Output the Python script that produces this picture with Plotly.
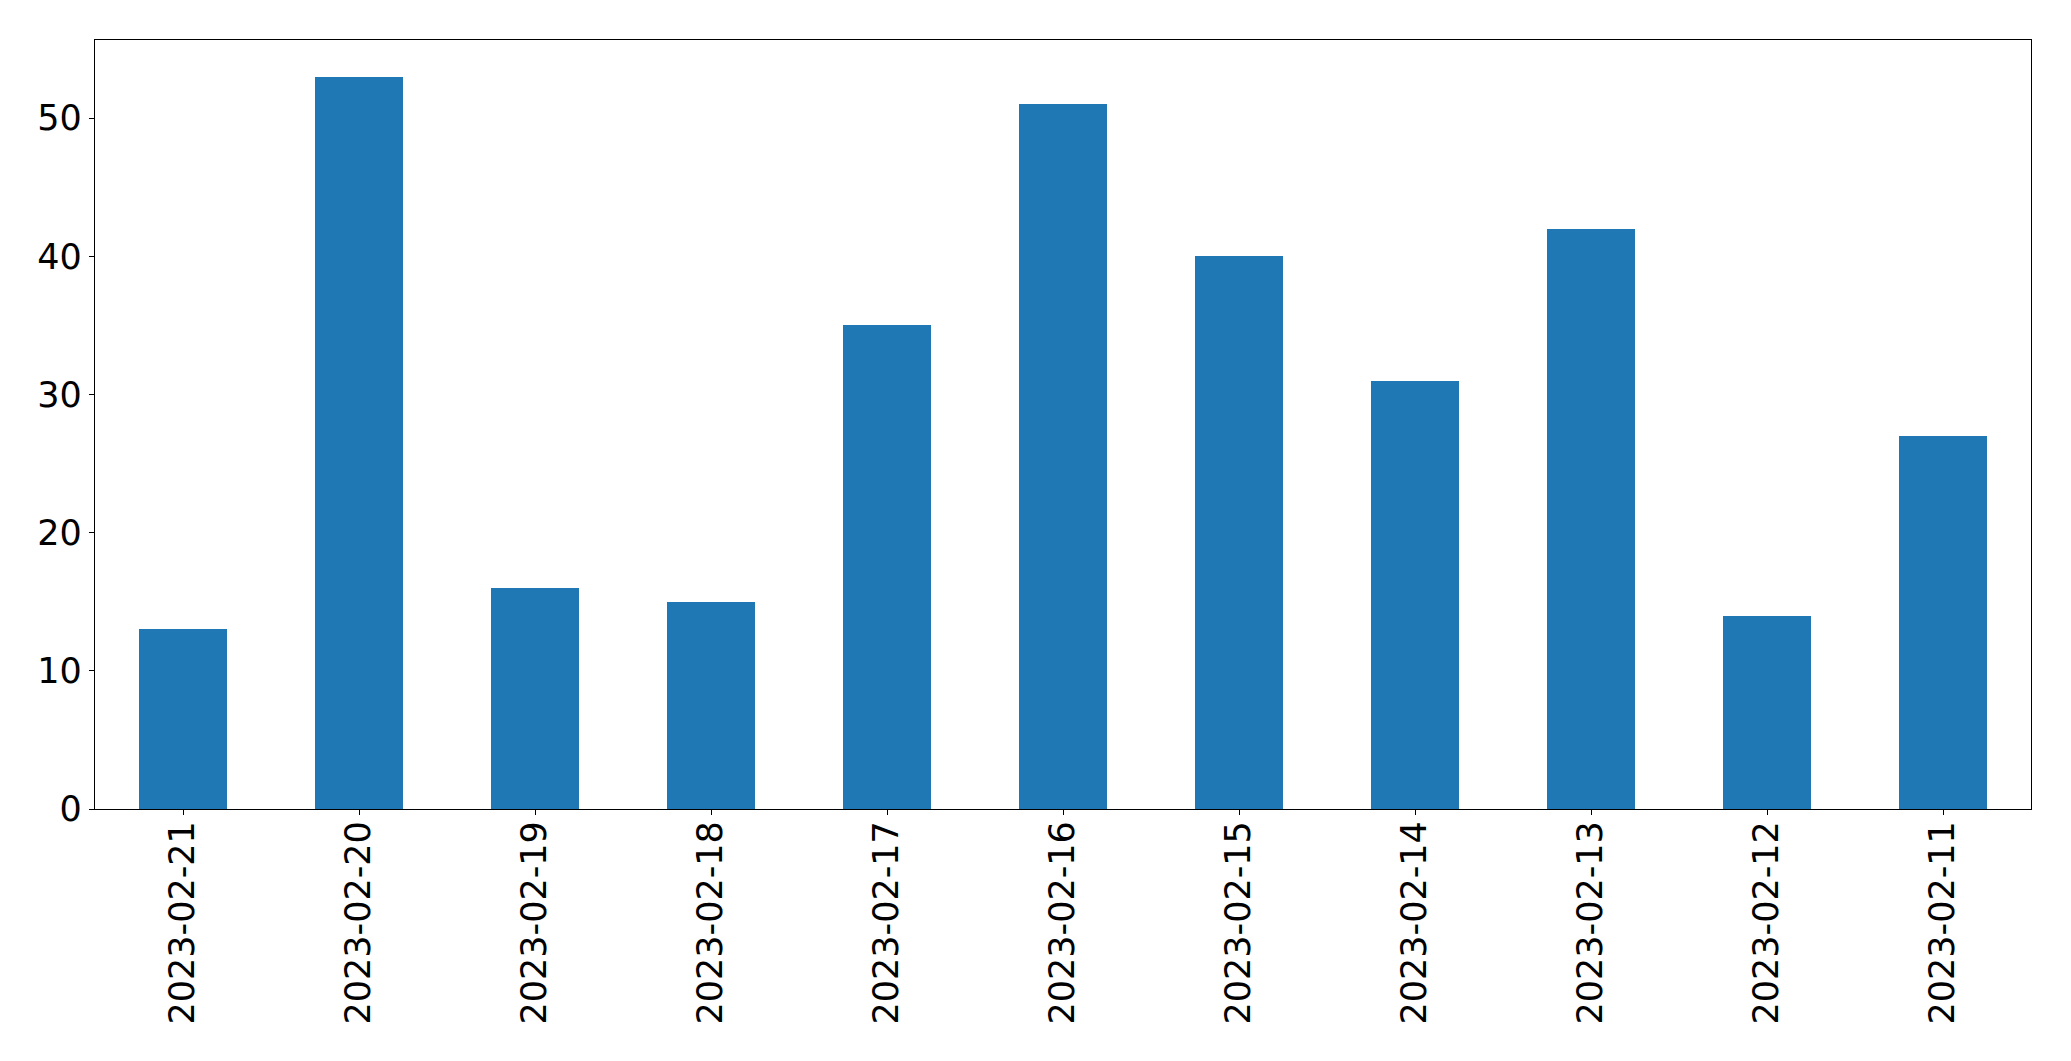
import plotly.graph_objects as go

dates = ["2023-02-21", "2023-02-20", "2023-02-19", "2023-02-18", "2023-02-17",
         "2023-02-16", "2023-02-15", "2023-02-14", "2023-02-13", "2023-02-12",
         "2023-02-11"]
counts = [13, 53, 16, 15, 35, 51, 40, 31, 42, 14, 27]
y_ticks = [0, 10, 20, 30, 40, 50]

fig = go.Figure(go.Bar(x=dates, y=counts, width=0.5, marker=dict(color="#1f77b4", line=dict(width=0))))

font = dict(family="DejaVu Sans", size=35, color="black")
fig.update_layout(
    width=2071, height=1061,
    margin=dict(l=94.5, r=39.5, t=39.5, b=252, autoexpand=False),
    plot_bgcolor="white", paper_bgcolor="white",
    showlegend=False,
    font=font,
    bargap=0,
)
fig.update_xaxes(type="category", range=[-0.5, len(dates) - 0.5], tickangle=-90,
                 showline=True, mirror=True, linecolor="black", linewidth=1.3,
                 ticks="outside", ticklen=5, tickcolor="black", tickwidth=1.3,
                 ticklabelstandoff=-8,
                 showgrid=False, zeroline=False, tickfont=font)
fig.update_yaxes(range=[0, max(counts) * 1.05], tickvals=y_ticks,
                 showline=True, mirror=True, linecolor="black", linewidth=1.3,
                 ticks="outside", ticklen=5, tickcolor="black", tickwidth=1.3,
                 showgrid=False, zeroline=False, tickfont=font)

fig.write_html("out.html",
               config={"displayModeBar": False},
               post_script="document.body.style.margin='0';document.body.style.overflow='hidden';")
